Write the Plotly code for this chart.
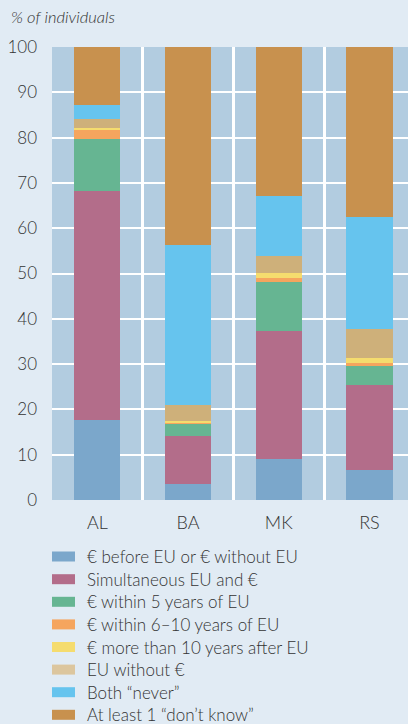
import plotly.graph_objects as go

countries = ["AL", "BA", "MK", "RS"]
series_names = [
    "€ before EU or € without EU",
    "Simultaneous EU and €",
    "€ within 5 years of EU",
    "€ within 6–10 years of EU",
    "€ more than 10 years after EU",
    "EU without €",
    "Both “never”",
    "At least 1 “don’t know”",
]
before_or_without_eu = [17.7, 3.5, 9.1, 6.6]
simultaneous = [50.5, 10.6, 28.1, 18.8]
within_5 = [11.5, 2.7, 10.9, 4.2]
within_6_10 = [1.9, 0.4, 0.9, 0.6]
more_than_10 = [0.6, 0.3, 1.1, 1.1]
eu_without_euro = [1.8, 3.5, 3.8, 6.4]
both_never = [3.1, 35.2, 13.2, 24.8]
dont_know = [12.9, 43.8, 32.9, 37.5]
y_ticks = [0, 10, 20, 30, 40, 50, 60, 70, 80, 90, 100]

series_values = [before_or_without_eu, simultaneous, within_5, within_6_10,
                 more_than_10, eu_without_euro, both_never, dont_know]
colors = ["#7BA7CB", "#B36D8A", "#66B592", "#F5A55E", "#F5DC6E",
          "#CEB07A", "#66C4EE", "#C8914E"]
legend_colors = ["#7BA7CB", "#B36D8A", "#66B592", "#F5A55E", "#F5DC6E",
                 "#DCC69E", "#66C4EE", "#C8914E"]

FONT = "Lato, 'Open Sans', sans-serif"
TXT = "#333333"
WT = 300

fig = go.Figure()
for name, vals, col in zip(series_names, series_values, colors):
    fig.add_trace(go.Bar(x=countries, y=vals, name=name, marker_color=col,
                         marker_line_width=0, width=0.51, showlegend=False))

# layout geometry (pixels)
W, H = 408, 724
L, R, T, B = 52, 0, 47, 224
plot_h = H - T - B
plot_w = W - L - R

def py(p):
    return (H - B - p) / plot_h

def px(p):
    return (p - L) / plot_w

shapes = []
annotations = []
row_y = [556.5, 579.2, 601.8, 624.4, 647.0, 669.6, 692.2, 714.8]
for name, col, yy in zip(series_names, legend_colors, row_y):
    shapes.append(dict(type="rect", xref="paper", yref="paper",
                       x0=px(52), x1=px(75), y0=py(yy + 5), y1=py(yy - 5),
                       fillcolor=col, line_width=0))
    annotations.append(dict(text=name, xref="paper", yref="paper",
                            x=px(85), y=py(yy), xanchor="left", yanchor="middle",
                            showarrow=False,
                            font=dict(size=17, color=TXT, family=FONT, weight=WT)))

annotations.append(dict(text="<i>% of individuals</i>", xref="paper", yref="paper",
                        x=px(9), y=py(17), xanchor="left", yanchor="middle",
                        showarrow=False,
                        font=dict(size=16.5, color=TXT, family=FONT, weight=WT)))

fig.update_layout(
    barmode="stack",
    width=W, height=H,
    margin=dict(l=L, r=R, t=T, b=B, pad=0),
    paper_bgcolor="#E1EBF4",
    plot_bgcolor="#B2CCE0",
    font=dict(family=FONT, color=TXT, size=16, weight=WT),
    shapes=shapes,
    annotations=annotations,
    showlegend=False,
)
fig.update_xaxes(type="category", range=[-0.5, 3.425], tickson="boundaries",
                 showgrid=True, gridcolor="white", gridwidth=2.5,
                 ticks="", ticklabelstandoff=10,
                 tickfont=dict(size=18, color=TXT, family=FONT, weight=WT),
                 showline=False, zeroline=False)
fig.update_yaxes(range=[0, 100], tickvals=y_ticks, showgrid=True,
                 gridcolor="white", gridwidth=2, zeroline=False, showline=False,
                 ticks="", ticklabelstandoff=14,
                 tickfont=dict(size=17, color=TXT, family=FONT, weight=WT))

fig.write_html("out.html", config={"displayModeBar": False},
               post_script="document.body.style.margin='0';document.body.style.background='#E1EBF4';")
